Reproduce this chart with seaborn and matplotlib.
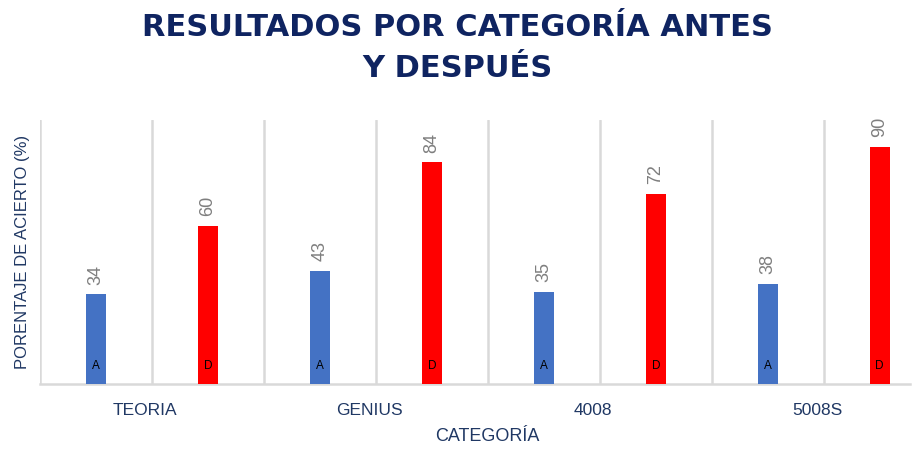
import numpy as np
import pandas as pd
import matplotlib
matplotlib.use("Agg")
import matplotlib.pyplot as plt
import seaborn as sns

# datos
categorias = ["TEORIA", "GENIUS", "4008", "5008S"]
antes      = [34, 43, 35, 38]
despues    = [60, 84, 72, 90]
letras     = {"Antes": "A", "Después": "D"}

AZUL   = "#4472C4"
ROJO   = "#FF0000"
NAVY   = "#0F2461"
NAVY2  = "#203864"
GRIS   = "#D9D9D9"

# cada categoría ocupa dos huecos: antes | después
filas = []
for i, cat in enumerate(categorias):
    filas.append({"pos": 2 * i,     "valor": antes[i],   "serie": "Antes",   "cat": cat})
    filas.append({"pos": 2 * i + 1, "valor": despues[i], "serie": "Después", "cat": cat})
df = pd.DataFrame(filas)

sns.set_style("white")
plt.rcParams["font.family"] = ["Liberation Sans", "DejaVu Sans"]

fig = plt.figure(figsize=(9.15, 4.5), dpi=100)
ax = fig.add_axes([0.0437, 0.1467, 0.9508, 0.5863])

sns.barplot(data=df, x="pos", y="valor", hue="serie", native_scale=True,
            palette={"Antes": AZUL, "Después": ROJO}, width=0.18,
            saturation=1, legend=False, ax=ax, edgecolor="none", zorder=3)

# etiquetas de valor (giradas) y letra A/D dentro de la barra
for cont in ax.containers:
    ax.bar_label(cont, fmt="%d", rotation=90, padding=7, color="#7F7F7F",
                 fontsize=13)
for _, r in df.iterrows():
    ax.text(r["pos"], 7, letras[r["serie"]], ha="center", va="center",
            fontsize=8.5, color="black", zorder=4)

n = len(df)
ax.set_xlim(-0.5, n - 0.73)
ax.set_ylim(0, 100)

# líneas verticales entre huecos
for b in np.arange(-0.5, n - 1, 1.0):
    ax.axvline(b, color=GRIS, lw=1.8, zorder=1)
ax.set_xticks(np.arange(0.5, n, 2.0) - 0.06)
ax.set_xticklabels(categorias, fontsize=12.5, color=NAVY2)
ax.tick_params(axis="x", length=0, pad=14)
ax.set_yticks([])

for s in ["top", "right", "left"]:
    ax.spines[s].set_visible(False)
ax.spines["bottom"].set_color(GRIS)
ax.spines["bottom"].set_linewidth(1.8)

ax.set_xlabel("CATEGORÍA", fontsize=13, color=NAVY2)
ax.xaxis.set_label_coords(0.514, -0.165)
ax.set_ylabel("PORENTAJE DE ACIERTO (%)", fontsize=12, color=NAVY2,
              labelpad=7)

fig.suptitle("RESULTADOS POR CATEGORÍA ANTES\nY DESPUÉS", fontsize=22,
             fontweight="bold", color=NAVY, y=0.972, linespacing=1.55,
             family="DejaVu Sans")

fig.savefig("out.png", dpi=100, facecolor="white")
